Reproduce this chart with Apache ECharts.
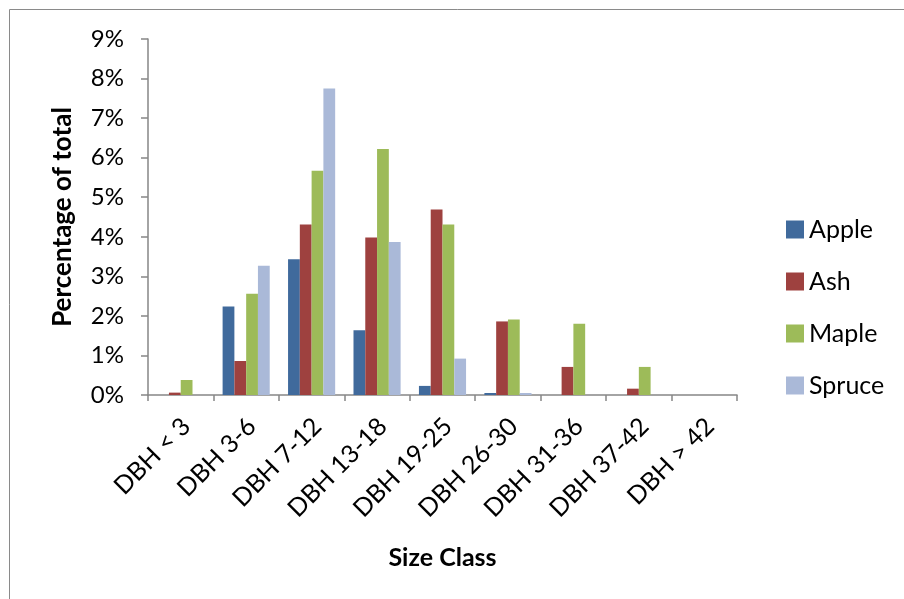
<!DOCTYPE html>
<html><head><meta charset="utf-8">
<script src="https://cdn.jsdelivr.net/npm/echarts@6/dist/echarts.min.js"></script>
<style>html,body{margin:0;padding:0;background:#fff}#c{width:904px;height:599px}</style>
</head><body><div id="c"></div>
<script>
const categories = ["DBH < 3","DBH 3-6","DBH 7-12","DBH 13-18","DBH 19-25","DBH 26-30","DBH 31-36","DBH 37-42","DBH > 42"];
const apple  = [0, 2.24, 3.43, 1.64, 0.23, 0.05, 0, 0, 0];
const ash    = [0.06, 0.86, 4.31, 3.98, 4.69, 1.86, 0.71, 0.16, 0];
const maple  = [0.38, 2.56, 5.67, 6.22, 4.31, 1.91, 1.80, 0.71, 0];
const spruce = [0, 3.27, 7.75, 3.87, 0.92, 0.05, 0, 0, 0];
const yTicks = ["0%","1%","2%","3%","4%","5%","6%","7%","8%","9%"];

const FONT = 'Lato, "Open Sans", sans-serif';
const chart = echarts.init(document.getElementById('c'), null, {renderer:'canvas'});
const mk = (name, data, color) => ({
  name, type:'bar', data, barGap:'0%', barCategoryGap:'28%',
  itemStyle:{color}
});
chart.setOption({
  backgroundColor:'#fff',
  animation:false,
  textStyle:{fontFamily:FONT},
  graphic:[{type:'rect', shape:{x:9.5,y:9.5,width:1000,height:700}, style:{fill:'none', stroke:'#8a8a8a', lineWidth:1}}],
  grid:{left:148, top:39, right:167, bottom:204},
  legend:{
    orient:'vertical', left:781, top:212, itemWidth:18, itemHeight:18, itemGap:27,
    icon:'rect', textStyle:{fontSize:25, color:'#000', fontFamily:FONT},
    data:['Apple','Ash','Maple','Spruce']
  },
  xAxis:{
    type:'category', data:categories,
    name:'Size Class', nameLocation:'middle', nameGap:150,
    nameTextStyle:{fontSize:25, fontWeight:'bold', color:'#000', fontFamily:FONT},
    axisLine:{lineStyle:{color:'#868686', width:1.5}},
    axisTick:{show:true, length:6, lineStyle:{color:'#868686', width:1.5}},
    axisLabel:{rotate:45, fontSize:25, color:'#000', margin:33, padding:[0,-8,0,0], fontFamily:FONT}
  },
  yAxis:{
    type:'value', min:0, max:9, interval:1,
    name:'Percentage of total', nameLocation:'middle', nameGap:72,
    nameTextStyle:{fontSize:26, fontWeight:'bold', color:'#000', fontFamily:FONT},
    axisLine:{show:true, lineStyle:{color:'#868686', width:1.5}},
    axisTick:{show:true, length:7, lineStyle:{color:'#868686', width:1.5}},
    splitLine:{show:false},
    axisLabel:{fontSize:24, color:'#000', margin:24, fontFamily:FONT,
      formatter:(v)=>yTicks[Math.round(v)]}
  },
  series:[
    mk('Apple', apple, '#406A9C'),
    mk('Ash', ash, '#9E413F'),
    mk('Maple', maple, '#9DBB59'),
    mk('Spruce', spruce, '#AAB9D8')
  ]
});
</script></body></html>
